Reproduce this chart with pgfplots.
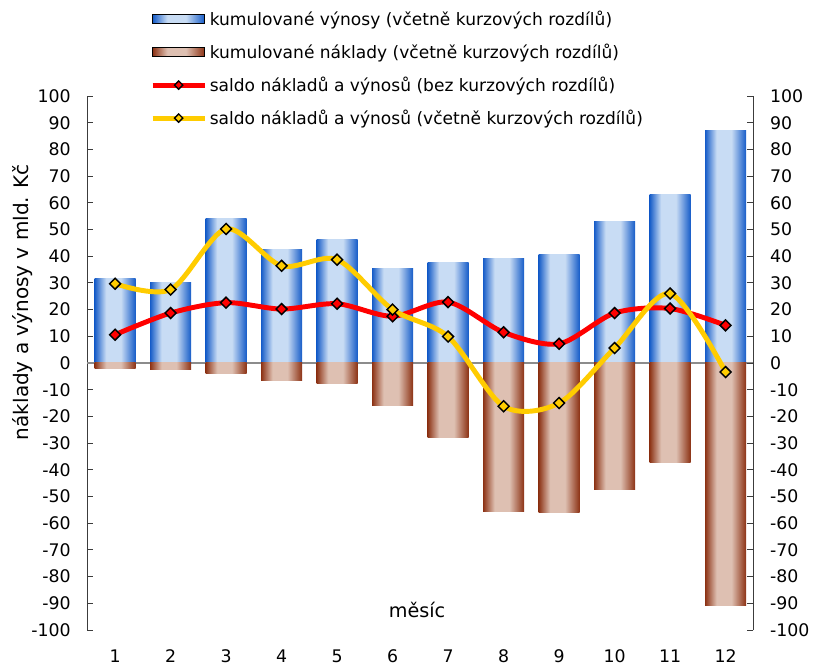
\documentclass[border=0pt]{standalone}
\usepackage{pgfplots}
\pgfplotsset{compat=1.18}
\usepackage{fontspec}
\setmainfont{DejaVu Sans}

\definecolor{blueE}{RGB}{22,92,200}
\definecolor{blueL}{RGB}{200,220,244}
\definecolor{brownE}{RGB}{140,50,20}
\definecolor{brownL}{RGB}{222,192,178}
\definecolor{redL}{RGB}{255,0,0}
\definecolor{yelL}{RGB}{255,204,0}
\definecolor{axgray}{RGB}{60,60,60}

\pgfdeclarehorizontalshading{barblue}{100bp}{color(0bp)=(blueE); color(25bp)=(blueE);
  color(39bp)=(blueL); color(57bp)=(blueL); color(75bp)=(blueE); color(100bp)=(blueE)}
\pgfdeclarehorizontalshading{barbrown}{100bp}{color(0bp)=(brownE); color(25bp)=(brownE);
  color(39bp)=(brownL); color(57bp)=(brownL); color(75bp)=(brownE); color(100bp)=(brownE)}

\pgfplotstableread{
m inc cost net gross
1 31.6 -2.0 10.6 29.7
2 30.1 -2.5 18.7 27.5
3 54.0 -3.9 22.6 50.2
4 42.4 -6.6 20.2 36.4
5 46.2 -7.8 22.2 38.7
6 35.3 -15.9 17.5 20.0
7 37.6 -27.8 22.8 9.9
8 39.1 -55.7 11.5 -16.2
9 40.6 -56.1 7.2 -15.0
10 53.0 -47.3 18.7 5.6
11 63.2 -37.2 20.4 26.0
12 87.2 -90.8 14.1 -3.4
}\data

\pgfplotsset{
  common/.style={
    scale only axis, width=499.5pt, height=400.5pt,
    xmin=0.5, xmax=12.5, ymin=-100, ymax=100,
    ytick={-100,-90,...,100},
    tick align=inside, major tick length=4.5pt,
    tick style={axgray, line width=0.6pt},
    axis line style={axgray, line width=0.8pt},
    /pgf/number format/assume math mode=true,
    tick label style={font=\fontsize{13}{15}\selectfont},
  },
  barinc/.style={ybar, bar width=30.75pt, bar shift=0pt, draw=none, shading=barblue},
  barcost/.style={ybar, bar width=30.75pt, bar shift=0pt, draw=none, shading=barbrown},
  barleg/.style={legend image code/.code={
    \path[shading=#1] (0pt,-3.5pt) rectangle (39pt,3.5pt);}},
  lineleg/.style={legend image code/.code={
    \draw[#1, line width=3.7pt] (0pt,0pt) -- (39pt,0pt);
    \draw[mark=square*, mark size=2.2pt, mark options={fill=#1, draw=black, line width=1pt, rotate=45}] plot coordinates {(19.5pt,0pt)};}},
  salmark/.style={mark=square*, mark size=2.9pt,
    mark options={fill=#1, draw=black, line width=1.1pt, rotate=45}},
}

\begin{document}
\begin{tikzpicture}
\begin{axis}[common,
  axis y line*=left, axis x line*=bottom,
  x axis line style={draw=none},
  xtick={1,...,12}, x tick style={draw=none},
  xticklabel style={yshift=-11pt},
  yticklabel style={xshift=-9pt},
  ylabel={náklady a výnosy v mld. Kč},
  ylabel style={font=\fontsize{15}{18}\selectfont, at={(ticklabel cs:0.614)}, yshift=-8pt},
  xlabel={měsíc},
  xlabel style={font=\fontsize{14.4}{17}\selectfont, at={(axis cs:6.44,-92.5)}, anchor=center},
  extra y ticks={0}, extra y tick labels={},
  extra y tick style={grid=major, major grid style={gray!90, line width=0.8pt}, major tick length=0pt},
  clip=false,
  legend style={draw=none, fill=none, at={(0.094,1.165)}, anchor=north west,
    font=\fontsize{12.8}{15}\selectfont, row sep=8.4pt, inner sep=0pt},
  legend cell align=left,
]
\addlegendimage{barleg=barblue}
\addlegendentry{kumulované výnosy (včetně kurzových rozdílů)}
\addlegendimage{barleg=barbrown}
\addlegendentry{kumulované náklady (včetně kurzových rozdílů)}
\pgfplotsinvokeforeach{1,...,12}{
  \addplot[barinc, forget plot, restrict x to domain=#1:#1] table[x=m, y=inc] {\data};
  \addplot[barcost, forget plot, restrict x to domain=#1:#1] table[x=m, y=cost] {\data};
}
\addplot[redL, line width=3.7pt, smooth, salmark=redL, lineleg=redL]
  table[x=m, y=net] {\data};
\addlegendentry{saldo nákladů a výnosů (bez kurzových rozdílů)}
\addplot[yelL, line width=3.7pt, smooth, salmark=yelL, lineleg=yelL]
  table[x=m, y=gross] {\data};
\addlegendentry{saldo nákladů a výnosů (včetně kurzových rozdílů)}
\end{axis}
\begin{axis}[common,
  axis y line*=right, axis x line=none,
  yticklabel style={xshift=9pt},
  clip=false,
]
\path (rel axis cs:0,0) ++(-65.5pt,-25.5pt) rectangle ++(611.25pt,498pt);
\end{axis}
\end{tikzpicture}
\end{document}
